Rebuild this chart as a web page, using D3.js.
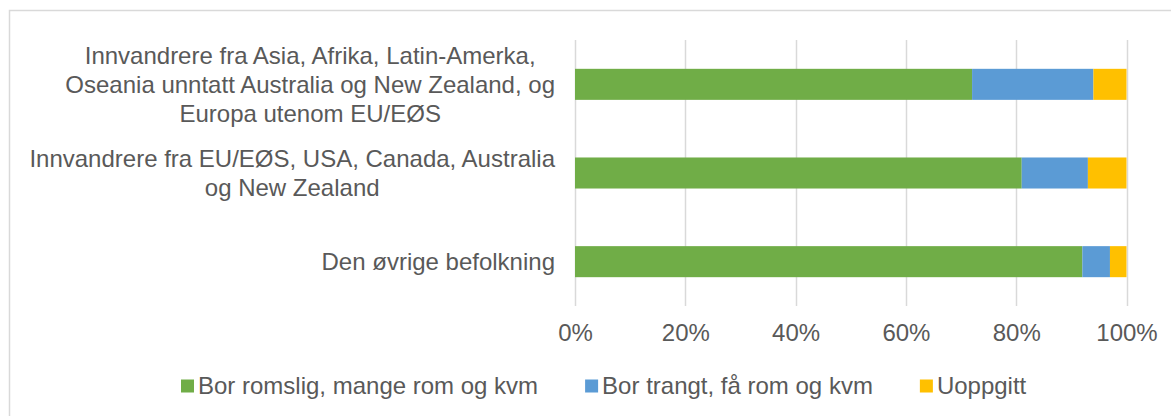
<!DOCTYPE html>
<html>
<head>
<meta charset="utf-8">
<script src="https://cdn.jsdelivr.net/npm/d3@7/dist/d3.min.js"></script>
<style>
  html, body { margin: 0; padding: 0; background: #fff; }
  svg { display: block; font-family: "Liberation Sans", Arial, sans-serif; }
</style>
</head>
<body>
<svg id="chart" width="1171" height="416"></svg>
<script>
// Categories (line breaks mark how each label wraps)
const categories = [
  "Innvandrere fra Asia, Afrika, Latin-Amerka,\nOseania unntatt Australia og New Zealand, og\nEuropa utenom EU/EØS",
  "Innvandrere fra EU/EØS, USA, Canada, Australia\nog New Zealand",
  "Den øvrige befolkning"
];

const seriesNames = [
  "Bor romslig, mange rom og kvm",
  "Bor trangt, få rom og kvm",
  "Uoppgitt"
];

// Shares in percent, one value per category
const romslig = [72, 81, 92];
const trangt = [22, 12, 5];
const uoppgitt = [6, 7, 3];

const tickValues = [0, 20, 40, 60, 80, 100];

const colors = ["#70AD47", "#5B9BD5", "#FFC000"];
const textColor = "#595959";
const gridColor = "#d9d9d9";
const fontSize = 24;

const svg = d3.select("#chart");

// outer frame (runs past the right and bottom edges)
svg.append("rect")
  .attr("x", 9.5).attr("y", 10.5)
  .attr("width", 1300).attr("height", 500)
  .attr("fill", "none").attr("stroke", gridColor).attr("stroke-width", 1.5);

const plot = { left: 575, right: 1126.5, top: 40, bottom: 306 };

const x = d3.scaleLinear().domain([0, 100]).range([plot.left, plot.right]);
const y = d3.scaleBand().domain(categories)
  .range([plot.top, plot.bottom])
  .paddingInner(0.65).paddingOuter(0.325);

// gridlines
svg.append("g").selectAll("line").data(tickValues).join("line")
  .attr("x1", d => Math.round(x(d)) + 0.5).attr("x2", d => Math.round(x(d)) + 0.5)
  .attr("y1", plot.top).attr("y2", plot.bottom)
  .attr("stroke", gridColor).attr("stroke-width", 1.5);

// stacked bars
const rows = categories.map((c, i) => ({ cat: c, r: romslig[i], t: trangt[i], u: uoppgitt[i] }));
const stack = d3.stack().keys(["r", "t", "u"]);
const layers = stack(rows);

svg.append("g").selectAll("g").data(layers).join("g")
  .attr("fill", (d, i) => colors[i])
  .selectAll("rect").data(d => d).join("rect")
  .attr("x", d => x(d[0]))
  .attr("width", d => x(d[1]) - x(d[0]))
  .attr("y", d => y(d.data.cat))
  .attr("height", y.bandwidth());

// x axis tick labels
const xAxis = d3.axisBottom(x).tickValues(tickValues)
  .tickFormat(d => d + "%").tickSize(0).tickPadding(0);
const gx = svg.append("g").attr("transform", `translate(0,${plot.bottom + 18})`).call(xAxis);
gx.select(".domain").remove();
gx.selectAll("text")
  .attr("fill", textColor)
  .style("font-size", fontSize + "px")
  .style("font-family", '"Liberation Sans", Arial, sans-serif');

// category labels, wrapped and centred as a block ending at the axis gap
const labelRight = 555;
const lineHeight = 29;
categories.forEach(cat => {
  const lines = cat.split("\n");
  const g = svg.append("g");
  const t = g.append("text")
    .attr("fill", textColor)
    .style("font-size", fontSize + "px")
    .attr("text-anchor", "middle");
  const cy = y(cat) + y.bandwidth() / 2;
  const first = cy - (lines.length - 1) * lineHeight / 2;
  const spans = lines.map((ln, i) =>
    t.append("tspan").attr("y", first + i * lineHeight).attr("dy", "0.35em").text(ln));
  const maxW = d3.max(spans, s => s.node().getComputedTextLength());
  spans.forEach(s => s.attr("x", labelRight - maxW / 2));
});

// legend
const legendY = 386;
const sq = 13;
const gap = 47;
const lg = svg.append("g");
let cursor = 0;
const items = seriesNames.map((name, i) => {
  const it = lg.append("g").attr("transform", `translate(${cursor},0)`);
  it.append("rect").attr("x", 0).attr("y", legendY - sq / 2)
    .attr("width", sq).attr("height", sq).attr("fill", colors[i]);
  const tx = it.append("text").attr("x", sq + 4).attr("y", legendY).attr("dy", "0.35em")
    .attr("fill", textColor).style("font-size", fontSize + "px").text(name);
  cursor += sq + 4 + tx.node().getComputedTextLength() + gap;
  return it;
});
const totalW = cursor - gap;
lg.attr("transform", `translate(${181},0)`);
</script>
</body>
</html>
